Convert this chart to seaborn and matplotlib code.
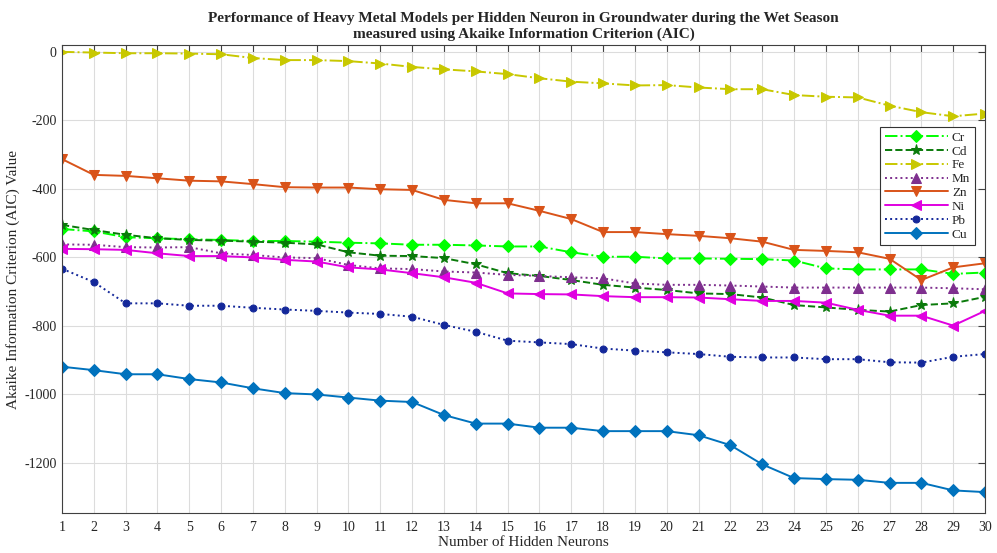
import numpy as np
import pandas as pd
import matplotlib
matplotlib.use("Agg")
import matplotlib.pyplot as plt
import seaborn as sns

neurons = list(range(1, 31))

cr = [-517, -524, -541, -544, -547, -549, -552, -552, -554, -557,
      -559, -563, -563, -565, -568, -568, -585, -598, -598, -603,
      -603, -604, -605, -609, -632, -635, -635, -635, -648, -644]
cd = [-505, -520, -534, -544, -549, -551, -554, -557, -562, -585,
      -595, -596, -602, -620, -646, -654, -666, -680, -688, -695,
      -705, -707, -717, -739, -746, -753, -758, -739, -734, -715]
fe = [0, -2, -4, -4, -5, -7, -18, -24, -24, -27,
      -34, -44, -51, -57, -65, -77, -87, -92, -98, -97,
      -104, -109, -109, -126, -131, -133, -157, -176, -188, -180]
mn = [-562, -563, -570, -571, -570, -588, -593, -600, -602, -622,
      -632, -634, -641, -644, -651, -654, -658, -661, -676, -680,
      -680, -682, -685, -688, -688, -688, -688, -688, -690, -693]
zn = [-313, -359, -362, -369, -376, -378, -386, -395, -396, -396,
      -401, -403, -432, -442, -442, -464, -488, -526, -526, -532,
      -537, -544, -554, -578, -581, -585, -604, -666, -629, -617]
ni = [-575, -576, -578, -588, -596, -596, -600, -607, -612, -629,
      -635, -646, -658, -674, -705, -707, -708, -713, -716, -716,
      -717, -722, -727, -727, -732, -753, -770, -770, -799, -756]
pb = [-633, -672, -734, -734, -741, -741, -747, -752, -756, -761,
      -765, -773, -797, -817, -843, -848, -853, -866, -872, -877,
      -882, -890, -892, -892, -897, -897, -906, -907, -890, -882]
cu = [-919, -929, -941, -941, -955, -965, -982, -996, -1000, -1009,
      -1018, -1022, -1060, -1085, -1085, -1097, -1097, -1107, -1107, -1107,
      -1119, -1148, -1204, -1244, -1247, -1249, -1258, -1258, -1280, -1285]

series = {"Cr": cr, "Cd": cd, "Fe": fe, "Mn": mn, "Zn": zn, "Ni": ni, "Pb": pb, "Cu": cu}

styles = {
    "Cr": dict(color="#00FF00", marker="D", ls="-.", ms=6),
    "Cd": dict(color="#0A7A0A", marker="*", ls="--", ms=8),
    "Fe": dict(color="#C8C800", marker=">", ls="-.", ms=7),
    "Mn": dict(color="#7E2F8E", marker="^", ls=":", ms=7),
    "Zn": dict(color="#D95319", marker="v", ls="-", ms=7),
    "Ni": dict(color="#E000E0", marker="<", ls="-", ms=7),
    "Pb": dict(color="#14289A", marker="o", ls=":", ms=5),
    "Cu": dict(color="#0072BD", marker="D", ls="-", ms=6),
}

sns.set_style("white")
plt.rcParams["font.family"] = ["Liberation Serif", "DejaVu Serif"]
plt.rcParams["axes.unicode_minus"] = False

fig = plt.figure(figsize=(9.97, 5.53), dpi=100)
ax = fig.add_axes([0.0622, 0.0723, 0.9258, 0.8463])

for name, vals in series.items():
    df = pd.DataFrame({"x": neurons, "y": vals})
    st = styles[name]
    sns.lineplot(data=df, x="x", y="y", ax=ax, color=st["color"], marker=st["marker"],
                 linestyle=st["ls"], markersize=st["ms"], linewidth=1.4,
                 markeredgecolor=st["color"], label=name)

ax.set_xlim(1, 30)
ax.set_ylim(-1346, 20)
ax.set_xticks(neurons)
ax.set_yticks([0, -200, -400, -600, -800, -1000, -1200])
ax.grid(True, color="#DCDCDC", linewidth=0.8)
ax.set_axisbelow(True)
ax.tick_params(direction="in", length=5, top=True, right=True, labelsize=10,
               colors="#404040", labelcolor="#262626", width=0.8)
ax.tick_params(axis="x", pad=6)
ax.tick_params(axis="y", pad=4)
for sp in ax.spines.values():
    sp.set_color("#404040")
    sp.set_linewidth(0.8)

ax.set_xlabel("Number of Hidden Neurons", fontsize=11, color="#262626", labelpad=1)
ax.set_ylabel("Akaike Information Criterion (AIC) Value", fontsize=11, color="#262626", labelpad=3)
ax.set_title("Performance of Heavy Metal Models per Hidden Neuron in Groundwater during the Wet Season\n"
             "measured using Akaike Information Criterion (AIC)",
             fontsize=11, fontweight="bold", pad=5, linespacing=1.3)

leg = ax.legend(loc="upper right", bbox_to_anchor=(0.989, 0.825), borderaxespad=0, fontsize=9.5,
                frameon=True, fancybox=False, edgecolor="#333333", framealpha=1,
                handlelength=4.8, borderpad=0.35, labelspacing=0.12, handletextpad=0.3)
leg.get_frame().set_linewidth(0.8)

fig.savefig("out.png", dpi=100)
